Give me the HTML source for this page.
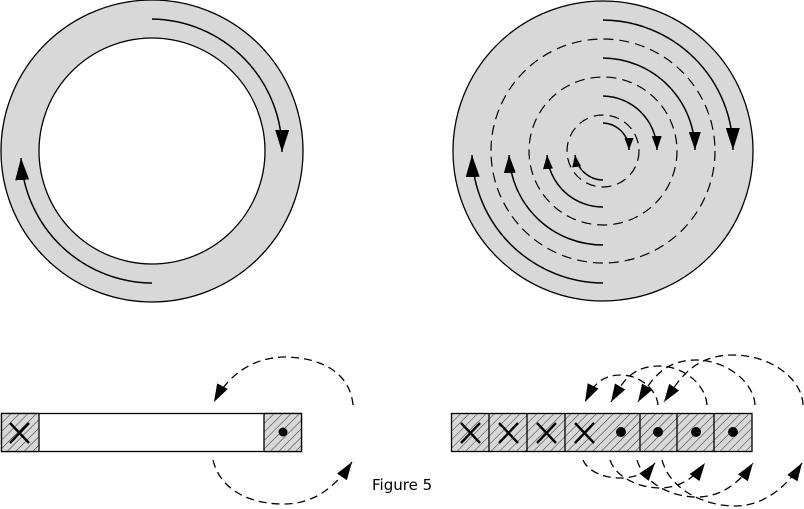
<!DOCTYPE html>
<html><head><meta charset="utf-8"><style>html,body{margin:0;padding:0;background:#fff}svg{display:block}</style></head><body>
<svg width="804" height="509" viewBox="0 0 804 509" xmlns="http://www.w3.org/2000/svg">
<defs>
<pattern id="h" width="6" height="6" patternUnits="userSpaceOnUse" patternTransform="rotate(45)">
<rect width="6" height="6" fill="#d8d8d8"/><line x1="0" y1="0" x2="0" y2="6" stroke="#000" stroke-width="0.8"/>
</pattern>
<marker id="aL" markerUnits="userSpaceOnUse" markerWidth="24" markerHeight="14" refX="22" refY="7" orient="auto"><path d="M0,0 L22,7 L0,14 Z" fill="#000"/></marker>
<marker id="aM" markerUnits="userSpaceOnUse" markerWidth="20" markerHeight="12" refX="18" refY="6" orient="auto"><path d="M0,0 L18,6 L0,12 Z" fill="#000"/></marker>
<marker id="aS" markerUnits="userSpaceOnUse" markerWidth="16" markerHeight="10" refX="14" refY="5" orient="auto"><path d="M0,0 L14,5 L0,10 Z" fill="#000"/></marker>
<marker id="aX" markerUnits="userSpaceOnUse" markerWidth="14" markerHeight="9" refX="12" refY="4.5" orient="auto"><path d="M0,0 L12,4.5 L0,9 Z" fill="#000"/></marker>
</defs>

<!-- left ring -->
<circle cx="152" cy="151" r="151" fill="#d8d8d8" stroke="#000" stroke-width="1.3"/>
<circle cx="152" cy="151" r="113" fill="#fff" stroke="#000" stroke-width="1.3"/>
<path d="M152,19 A132,132 0 0 1 282,152" fill="none" stroke="#000" stroke-width="1.5" marker-end="url(#aL)"/>
<path d="M152,283 A132,132 0 0 1 21,158" fill="none" stroke="#000" stroke-width="1.5" marker-end="url(#aL)"/>

<!-- right disc -->
<circle cx="603" cy="151" r="150" fill="#d8d8d8" stroke="#000" stroke-width="1.3"/>
<g fill="none" stroke="#000" stroke-width="1.2" stroke-dasharray="10,6">
<circle cx="603" cy="151" r="112"/><circle cx="603" cy="151" r="74"/><circle cx="603" cy="151" r="36"/>
</g>
<g fill="none" stroke="#000" stroke-width="1.5">
<path d="M603,20 A131,131 0 0 1 733,150" marker-end="url(#aL)"/>
<path d="M603,58 A93,93 0 0 1 695,150" marker-end="url(#aM)"/>
<path d="M603,96 A55,55 0 0 1 657,150" marker-end="url(#aS)"/>
<path d="M603,123 A27,27 0 0 1 629,150" marker-end="url(#aX)"/>
<path d="M603,283 A132,132 0 0 1 472,155" marker-end="url(#aL)"/>
<path d="M603,245 A94,94 0 0 1 509,155" marker-end="url(#aM)"/>
<path d="M603,207 A56,56 0 0 1 547,155" marker-end="url(#aS)"/>
<path d="M603,180 A29,29 0 0 1 575,155" marker-end="url(#aX)"/>
</g>

<!-- left bar -->
<rect x="1.5" y="413.5" width="300" height="38" fill="#fff" stroke="#000" stroke-width="1.3"/>
<rect x="1.5" y="413.5" width="37.5" height="38" fill="url(#h)" stroke="#000" stroke-width="1.3"/>
<rect x="264" y="413.5" width="37.5" height="38" fill="url(#h)" stroke="#000" stroke-width="1.3"/>
<path d="M10,423 L29,443 M29,423 L10,443" stroke="#000" stroke-width="2.4"/>
<circle cx="283" cy="432" r="4.5" fill="#000"/>
<g fill="none" stroke="#000" stroke-width="1.3" stroke-dasharray="8,5">
<path d="M353,405 C350,372 320,357 283,357 C255,358 230,372 214,402" marker-end="url(#aM)"/>
<path d="M213,460 C220,490 250,504 283,504 C315,504 335,487 352,462" marker-end="url(#aM)"/>
</g>

<!-- right bar -->
<g stroke="#000" stroke-width="1.3">
<rect x="451.5" y="413.5" width="300.5" height="38" fill="url(#h)"/>
<line x1="489" y1="413.5" x2="489" y2="451.5"/><line x1="527" y1="413.5" x2="527" y2="451.5"/>
<line x1="565" y1="413.5" x2="565" y2="451.5"/><line x1="640" y1="413.5" x2="640" y2="451.5"/>
<line x1="677" y1="413.5" x2="677" y2="451.5"/><line x1="714" y1="413.5" x2="714" y2="451.5"/>
</g>
<g stroke="#000" stroke-width="2.4">
<path d="M461,423 L480,443 M480,423 L461,443"/>
<path d="M499,423 L518,443 M518,423 L499,443"/>
<path d="M537,423 L556,443 M556,423 L537,443"/>
<path d="M575,423 L594,443 M594,423 L575,443"/>
</g>
<g fill="#000"><circle cx="621" cy="432" r="5"/><circle cx="658" cy="432" r="5"/><circle cx="696" cy="432" r="5"/><circle cx="733" cy="432" r="5"/></g>
<g fill="none" stroke="#000" stroke-width="1.3" stroke-dasharray="8,5">
<path d="M658,405 C657,390 640,375 621,375 C599,375 592,388 585,402" marker-end="url(#aM)"/>
<path d="M707,405 C706,385 684,366 659,366 C630,366 621,385 611,402" marker-end="url(#aM)"/>
<path d="M755,405 C754,382 726,360 696,360 C662,360 650,382 638,402" marker-end="url(#aM)"/>
<path d="M803,405 C802,378 770,355 733,355 C693,355 679,380 664,402" marker-end="url(#aM)"/>
<path d="M583,460 C588,472 605,478 620,478 C636,478 648,472 655,463" marker-end="url(#aM)"/>
<path d="M610,460 C616,478 640,488 660,488 C680,488 695,477 705,463" marker-end="url(#aM)"/>
<path d="M637,460 C644,484 672,497 697,497 C722,497 740,482 753,463" marker-end="url(#aM)"/>
<path d="M662,460 C670,490 705,506 735,506 C765,506 788,485 802,463" marker-end="url(#aM)"/>
</g>

<text x="372" y="490" font-family="DejaVu Sans, sans-serif" font-size="15" fill="#000">Figure 5</text>
</svg>
</body></html>
